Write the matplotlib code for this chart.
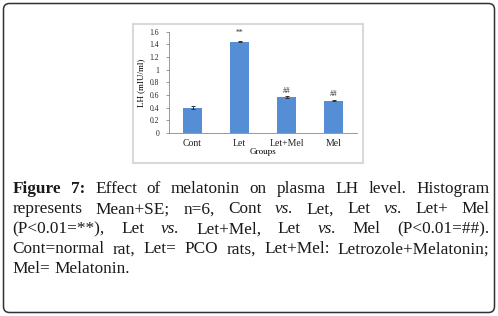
import matplotlib
matplotlib.use("Agg")
import matplotlib.pyplot as plt
from matplotlib.patches import FancyBboxPatch, Rectangle

# data
groups = ["Cont", "Let", "Let+Mel", "Mel"]
lh_mean = [0.40, 1.445, 0.575, 0.51]
lh_se = [0.022, 0.015, 0.015, 0.010]
sig_marks = ["", "**", "##", "##"]
sig_pos = [0, 1.575, 0.67, 0.62]
y_ticks = [0, 0.2, 0.4, 0.6, 0.8, 1, 1.2, 1.4, 1.6]
y_tick_labels = ["0", "0.2", "0.4", "0.6", "0.8", "1", "1.2", "1.4", "1.6"]

caption_lines = [
    [("Figure", "b"), ("7:", "b"), ("Effect", "n"), ("of", "n"), ("melatonin", "n"), ("on", "n"),
     ("plasma", "n"), ("LH", "n"), ("level.", "n"), ("Histogram", "n")],
    [("represents", "n"), ("Mean+SE;", "n"), ("n=6,", "n"), ("Cont", "n"), ("vs.", "i"), ("Let,", "n"),
     ("Let", "n"), ("vs.", "i"), ("Let+", "n"), ("Mel", "n")],
    [("(P<0.01=**),", "n"), ("Let", "n"), ("vs.", "i"), ("Let+Mel,", "n"), ("Let", "n"), ("vs.", "i"),
     ("Mel", "n"), ("(P<0.01=##).", "n")],
    [("Cont=normal", "n"), ("rat,", "n"), ("Let=", "n"), ("PCO", "n"), ("rats,", "n"), ("Let+Mel:", "n"),
     ("Letrozole+Melatonin;", "n")],
    [("Mel=", "n"), ("Melatonin.", "n")],
]

W, H = 498, 316
serif = "Liberation Serif"

fig = plt.figure(figsize=(W / 100, H / 100), dpi=100)

# background axes in pixel coordinates for frame + caption
bg = fig.add_axes([0, 0, 1, 1])
bg.set_xlim(0, W)
bg.set_ylim(H, 0)
bg.axis("off")

bg.add_patch(FancyBboxPatch((3.5, 3.5), 491, 309, boxstyle="round,pad=0,rounding_size=6",
                            fill=False, edgecolor="#333333", linewidth=1.1))
bg.add_patch(Rectangle((133, 24), 230, 139, fill=False, edgecolor="#d9d9d9", linewidth=1.5))

# justified caption, word by word
renderer = fig.canvas.get_renderer()
x0, x1 = 12.5, 489.5
baselines = [193.3, 213.3, 233.3, 253.3, 273.3]
fs = 12.4
for i, (line, yb) in enumerate(zip(caption_lines, baselines)):
    texts = []
    for word, style in line:
        t = bg.text(0, yb, word, fontsize=fs, family=serif, va="baseline", ha="left",
                    fontweight="bold" if style == "b" else "normal",
                    fontstyle="italic" if style == "i" else "normal", color="#1a1a1a")
        texts.append(t)
    widths = [t.get_window_extent(renderer).width for t in texts]
    if i < len(caption_lines) - 1:
        gap = (x1 - x0 - sum(widths)) / (len(texts) - 1)
    else:
        gap = fs * 100 / 72 * 0.25
    x = x0
    for t, w in zip(texts, widths):
        t.set_x(x)
        x += w + gap

# chart
ax = fig.add_axes([169 / W, 1 - 133 / H, 188 / W, 101.3 / H])
xs = range(len(groups))
ax.bar(xs, lh_mean, width=0.41, color="#558ed5", edgecolor="none", zorder=2)
ax.bar(xs, [0.012] * len(groups), bottom=[m - 0.012 for m in lh_mean], width=0.41,
       color="#a9c6ea", edgecolor="none", zorder=2)
ax.errorbar(xs, lh_mean, yerr=lh_se, fmt="none", ecolor="#333333", elinewidth=0.7,
            capsize=1.5, capthick=0.7, zorder=3)
for x, s, p in zip(xs, sig_marks, sig_pos):
    if s:
        ax.text(x, p, s, ha="center", va="center", fontsize=5.5, family=serif, color="#333333")

ax.set_xlim(-0.5, len(groups) - 0.5)
ax.set_ylim(0, 1.6)
ax.set_yticks(y_ticks)
ax.set_yticklabels(y_tick_labels, family=serif, fontsize=5.5, color="#222222")
ax.set_xticks(list(xs))
ax.set_xticklabels(groups, family=serif, fontsize=7, color="#222222")
ax.tick_params(axis="y", length=2, width=0.6, color="#888888", pad=5)
ax.tick_params(axis="x", length=0, pad=4)
ax.set_ylabel("LH (mIU/ml)", family=serif, fontsize=6.5, labelpad=3)
ax.set_xlabel("Groups", family=serif, fontsize=6.5, labelpad=0)
for side in ["top", "right"]:
    ax.spines[side].set_visible(False)
ax.spines["left"].set_color("#888888")
ax.spines["bottom"].set_color("#888888")
ax.spines["left"].set_linewidth(0.6)
ax.spines["bottom"].set_linewidth(0.6)

fig.savefig("out.png", dpi=100)
